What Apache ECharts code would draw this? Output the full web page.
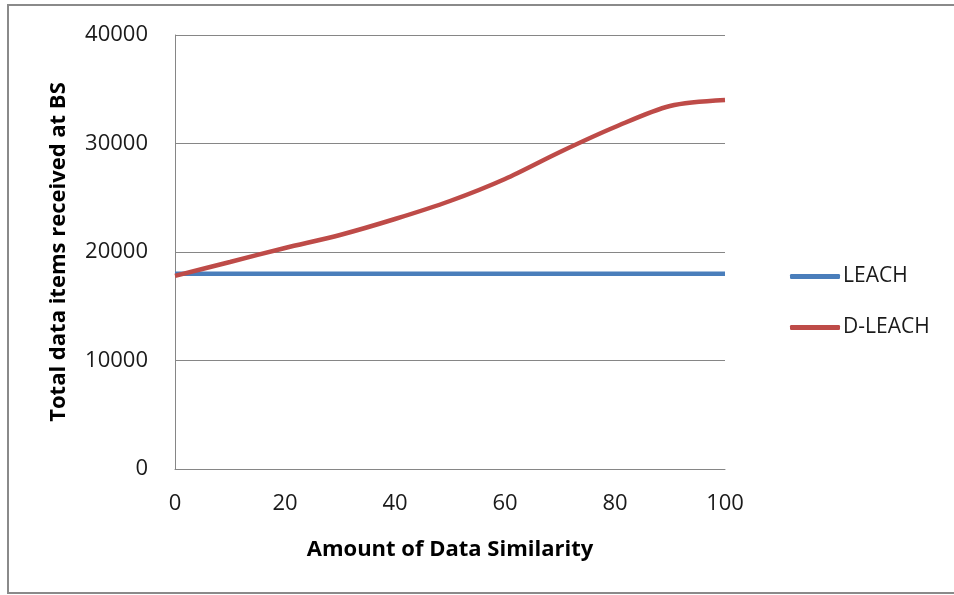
<!DOCTYPE html>
<html>
<head>
<meta charset="utf-8">
<script src="https://cdn.jsdelivr.net/npm/echarts@6/dist/echarts.min.js"></script>
<style>
  html, body { margin: 0; padding: 0; background: #fff; }
  #chart { width: 954px; height: 595px; }
</style>
</head>
<body>
<div id="chart"></div>
<script>
// Amount of data similarity (%)
const similarity = [0, 10, 20, 30, 40, 50, 60, 70, 80, 90, 100];
// Total data items received at the base station
const leach  = [18000, 18000, 18000, 18000, 18000, 18000, 18000, 18000, 18000, 18000, 18000];
const dleach = [17800, 19080, 20370, 21570, 23040, 24700, 26730, 29220, 31520, 33460, 34010];
const seriesNames = ['LEACH', 'D-LEACH'];

const FONT = '"Open Sans", "Liberation Sans", sans-serif';
const gray = '#868686';

const chart = echarts.init(document.getElementById('chart'), null, { renderer: 'canvas' });

const pairs = (xs, ys) => xs.map((x, i) => [x, ys[i]]);

chart.setOption({
  animation: false,
  backgroundColor: '#ffffff',
  graphic: [{
    type: 'rect',
    shape: { x: 8, y: 5, width: 960, height: 588 },
    style: { fill: 'none', stroke: '#8a8a8a', lineWidth: 2 },
    silent: true
  }],
  grid: { left: 175, right: 229, top: 35, bottom: 126 },
  legend: {
    orient: 'vertical',
    left: 785,
    top: 261,
    itemWidth: 50,
    itemHeight: 5,
    itemGap: 30,
    icon: 'roundRect',
    textStyle: { fontFamily: FONT, fontSize: 21, color: '#1a1a1a', padding: [0, 0, 0, -2] },
    data: seriesNames
  },
  xAxis: {
    type: 'value',
    min: 0,
    max: 100,
    interval: 20,
    name: 'Amount of Data Similarity',
    nameLocation: 'middle',
    nameGap: 70,
    nameTextStyle: { fontFamily: FONT, fontSize: 22, fontWeight: 'bold', color: '#000' },
    axisLine: { show: true, lineStyle: { color: gray, width: 1 } },
    axisTick: { show: false },
    splitLine: { show: false },
    axisLabel: { fontFamily: FONT, fontSize: 22, color: '#1a1a1a', margin: 24 }
  },
  yAxis: {
    type: 'value',
    min: 0,
    max: 40000,
    interval: 10000,
    name: 'Total data items received at BS',
    nameLocation: 'middle',
    nameGap: 105,
    nameRotate: 90,
    nameTextStyle: { fontFamily: FONT, fontSize: 22, fontWeight: 'bold', color: '#000' },
    axisLine: { show: true, lineStyle: { color: gray, width: 1 } },
    axisTick: { show: false },
    splitLine: { show: true, lineStyle: { color: gray, width: 1 } },
    axisLabel: {
      fontFamily: FONT, fontSize: 22, color: '#1a1a1a', margin: 27,
      formatter: v => String(v)
    }
  },
  series: [
    {
      name: seriesNames[0],
      type: 'line',
      data: pairs(similarity, leach),
      showSymbol: false,
      smooth: 0.3,
      lineStyle: { color: '#4a7ebb', width: 4.5 },
      itemStyle: { color: '#4a7ebb' }
    },
    {
      name: seriesNames[1],
      type: 'line',
      data: pairs(similarity, dleach),
      showSymbol: false,
      smooth: 0.3,
      lineStyle: { color: '#be4b48', width: 4.5 },
      itemStyle: { color: '#be4b48' }
    }
  ]
});
</script>
</body>
</html>
